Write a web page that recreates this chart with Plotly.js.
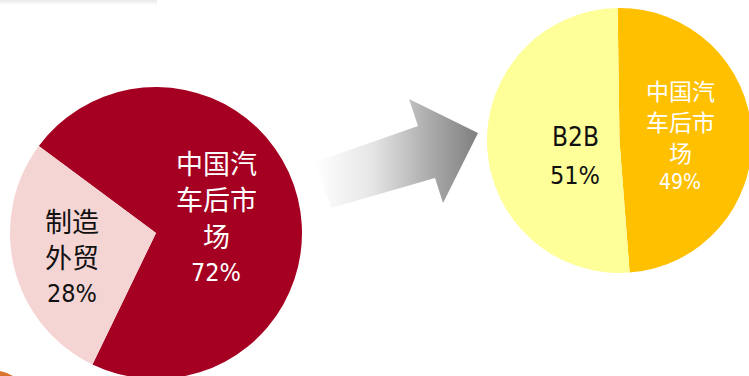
<!DOCTYPE html>
<html>
<head>
<meta charset="utf-8">
<script src="https://cdn.plot.ly/plotly-3.0.1.min.js"></script>
<style>
  html, body { margin: 0; padding: 0; overflow: hidden; background: #fff; }
  #chart { width: 760px; height: 390px; }
</style>
</head>
<body>
<div id="chart"></div>
<script>
// ---- data ----
const leftLabels = ['中国汽车后市场', '制造外贸'];
const leftValues = [72, 28];
const rightLabels = ['中国汽车后市场', 'B2B'];
const rightValues = [49, 51];

// ---- style ----
const W = 760, H = 390;
const leftColors = ['#A50021', '#F5D5D3'];
const rightColors = ['#FFC000', '#FFFF99'];
const CJK_FONT = '"Noto Sans CJK SC", sans-serif';
const NUM_FONT = '"DejaVu Sans Condensed", "Noto Sans CJK SC", sans-serif';

// pie geometry in pixels (centre x, centre y, radius)
const leftGeom = { cx: 156, cy: 233, r: 146, rot: -53.4 };
const rightGeom = { cx: 619.5, cy: 140.5, r: 132.5, rot: -0.8 };

// label placement
const leftLabelStyle = [
  { x: 216, y: 162, dy: 36.7, size: 27, nsize: 27, psize: 25, color: '#ffffff', wrap: 3 },
  { x: 72, y: 220, dy: 36.5, size: 27, nsize: 27, psize: 25, color: '#111111', wrap: 2 }
];
const rightLabelStyle = [
  { x: 680, y: 90, dy: 30.8, size: 23, nsize: 21, psize: 21, color: '#ffffff', wrap: 3 },
  { x: 575, y: 137, dy: 38, size: 27, nsize: 26, psize: 25, color: '#111111', wrap: 3 }
];

function domainOf(g) {
  return {
    x: [(g.cx - g.r) / W, (g.cx + g.r) / W],
    y: [(H - (g.cy + g.r)) / H, (H - (g.cy - g.r)) / H]
  };
}

function pieTrace(labels, values, colors, g) {
  return {
    type: 'pie',
    labels: labels,
    values: values,
    sort: false,
    direction: 'clockwise',
    rotation: g.rot,
    domain: domainOf(g),
    marker: { colors: colors, line: { width: 0 } },
    textinfo: 'none',
    hoverinfo: 'skip',
    showlegend: false
  };
}

function chunk(s, n) {
  const out = [];
  const chars = Array.from(s);
  for (let i = 0; i < chars.length; i += n) out.push(chars.slice(i, i + n).join(''));
  return out;
}

const annotations = [];
function addLabels(labels, values, styles) {
  labels.forEach((lab, i) => {
    const st = styles[i];
    const lines = chunk(lab, st.wrap);
    const all = lines.map(t => ({ t: t, kind: /^[A-Za-z0-9%]+$/.test(t) ? 'n' : 'c' }))
      .concat([{ t: values[i] + '%', kind: 'p' }]);
    all.forEach((ln, j) => {
      const size = ln.kind === 'c' ? st.size : (ln.kind === 'n' ? st.nsize : st.psize);
      annotations.push({
        xref: 'x', yref: 'y', x: st.x, y: st.y + j * st.dy,
        text: ln.t, showarrow: false, xanchor: 'center', yanchor: 'middle',
        font: { family: ln.kind === 'c' ? CJK_FONT : NUM_FONT, size: size, color: st.color }
      });
    });
  });
}
addLabels(leftLabels, leftValues, leftLabelStyle);
addLabels(rightLabels, rightValues, rightLabelStyle);

// decorative gradient arrow (pixel path)
const arrowX = [315, 418, 409, 478, 443, 435, 331, 315];
const arrowY = [162, 126, 99, 133, 203, 178, 208, 162];
const arrow = {
  type: 'scatter', mode: 'lines', x: arrowX, y: arrowY,
  fill: 'toself',
  fillgradient: {
    type: 'horizontal',
    colorscale: [[0, 'rgba(255,255,255,1)'], [0.35, '#e6e6e6'], [0.7, '#acacac'], [1, '#7f7f7f']]
  },
  line: { width: 0, color: 'rgba(0,0,0,0)' },
  hoverinfo: 'skip', showlegend: false
};

const data = [arrow,
  pieTrace(leftLabels, leftValues, leftColors, leftGeom),
  pieTrace(rightLabels, rightValues, rightColors, rightGeom)];

const layout = {
  width: W, height: H,
  margin: { l: 0, r: 0, t: 0, b: 0 },
  paper_bgcolor: '#ffffff', plot_bgcolor: 'rgba(0,0,0,0)',
  xaxis: { range: [0, W], visible: false, fixedrange: true },
  yaxis: { range: [H, 0], visible: false, fixedrange: true },
  showlegend: false,
  annotations: annotations,
  shapes: [
    { type: 'rect', xref: 'x', yref: 'y', x0: 0, x1: 157, y0: -2, y1: 2,
      fillcolor: '#ececec', line: { width: 0 }, layer: 'below' },
    { type: 'rect', xref: 'x', yref: 'y', x0: 0, x1: 157, y0: 2, y1: 4,
      fillcolor: '#f6f6f6', line: { width: 0 }, layer: 'below' },
    { type: 'path', xref: 'x', yref: 'y',
      path: 'M0,371 Q6,372 13,376 L0,376 Z',
      fillcolor: '#d9742e', line: { width: 0 }, layer: 'below' }
  ]
};

Plotly.newPlot('chart', data, layout, { staticPlot: true, displayModeBar: false });
</script>
</body>
</html>
